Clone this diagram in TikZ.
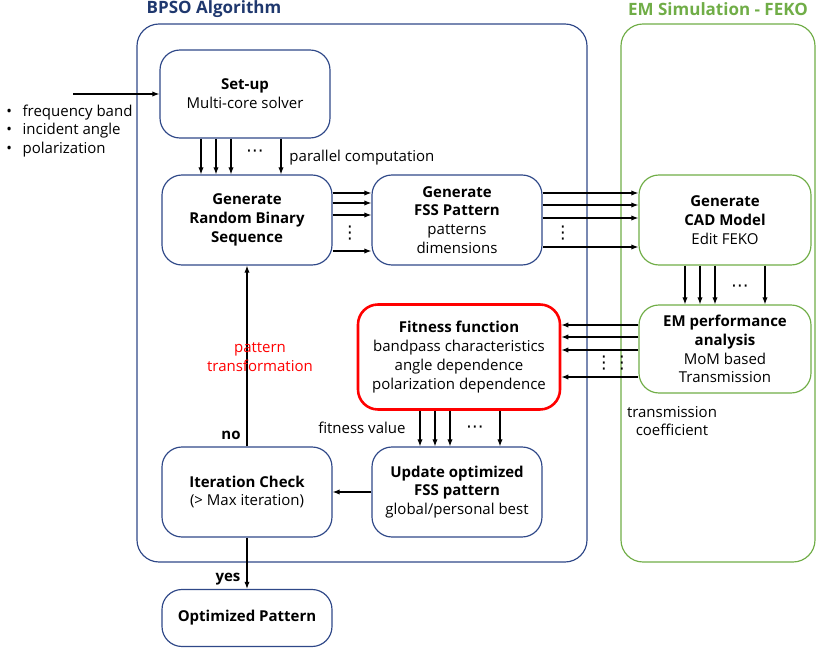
\documentclass[tikz,border=0pt]{standalone}
\usepackage{fontspec}
\setmainfont{Open Sans}
\newfontfamily\symfont{DejaVu Sans}
\usetikzlibrary{arrows.meta}
\definecolor{bpsoblue}{RGB}{47,72,136}
\definecolor{titleblue}{RGB}{31,56,110}
\definecolor{femgreen}{RGB}{112,173,71}
\tikzset{
	block/.style={draw=bpsoblue, line width=1pt, rounded corners=0.6cm, align=center, minimum width=5.1cm, minimum height=2.7cm, inner sep=0pt},
	femblock/.style={block, draw=femgreen, minimum width=5.16cm},
	fitblock/.style={block, draw=red, line width=2.2pt, minimum width=6.06cm, minimum height=3.15cm},
	frame/.style={line width=1pt, rounded corners=0.66cm},
	bigtitle/.style={font=\fontsize{14.5}{16}\selectfont\bfseries},
	answer/.style={font=\fontsize{12.8}{16}\selectfont\bfseries},
	dots/.style={inner sep=0pt, font=\symfont\fontsize{15}{15}\selectfont},
}
\begin{document}
\begin{tikzpicture}[x=0.03cm, y=-0.03cm, line width=1pt,
	>={Latex[length=6pt,width=4.5pt]},
	every node/.style={font=\fontsize{12.8}{16}\selectfont}]
	\useasboundingbox (0,0) rectangle (827,649);
	\draw [frame, bpsoblue] (137,24) rectangle (587,562);
	\draw [frame, femgreen] (621,24) rectangle (815,562);
	\node [bigtitle, text=titleblue] (bpsotitle) at (214,9) {BPSO Algorithm};
	\node [bigtitle, text=femgreen] (femtitle) at (718,9) {EM Simulation - FEKO};
	
	\node [block, minimum height=2.64cm] (setup) at (245,94)
	{\textbf{Set-up}\\Multi-core solver};
	\node [block] (random) at (247,220)
	{\textbf{Generate}\\\textbf{Random Binary}\\\textbf{Sequence}};
	\node [block] (fss) at (457,220)
	{\textbf{Generate}\\\textbf{FSS Pattern}\\patterns\\dimensions};
	\node [femblock] (cad) at (725,220)
	{\textbf{Generate}\\\textbf{CAD Model}\\Edit FEKO};
	\node [femblock, minimum height=2.64cm] (emperf) at (725,349)
	{\textbf{EM performance}\\\textbf{analysis}\\MoM based\\Transmission};
	\node [fitblock] (fitness) at (459,357)
	{\textbf{Fitness function}\\bandpass characteristics\\angle dependence\\polarization dependence};
	\node [block] (update) at (457,492)
	{\textbf{Update optimized}\\\textbf{FSS pattern}\\global/personal best};
	\node [block] (iter) at (247,492)
	{\textbf{Iteration Check}\\(> Max iteration)};
	\node [block, minimum height=1.71cm] (optimal) at (247,618)
	{\textbf{Optimized Pattern}};
	
	\node [align=left, anchor=west] (inputs) at (2,131)
	{\textbullet\hspace{0.7em}frequency band\\
		\textbullet\hspace{0.7em}incident angle\\
		\textbullet\hspace{0.7em}polarization};
	\coordinate (infeed) at (73,94);
	\draw [->] (infeed) -- (setup.west);
	
	\foreach \x in {201,216,231,281}
	\draw [->] (setup.south -| \x,0) -- (random.north -| \x,0);
	\foreach \y in {193,203,215,251}
	\draw [->] (random.east |- 0,\y) -- (fss.west |- 0,\y);
	\foreach \y in {193,205,218,247}
	\draw [->] (fss.east |- 0,\y) -- (cad.west |- 0,\y);
	\foreach \x in {685,700,715,765}
	\draw [->] (cad.south -| \x,0) -- (emperf.north -| \x,0);
	\foreach \y in {325,337,350,377}
	\draw [->] (emperf.west |- 0,\y) -- (fitness.east |- 0,\y);
	\foreach \x in {420,435,450,500}
	\draw [->] (fitness.south -| \x,0) -- (update.north -| \x,0);
	\draw [->] (update.west) -- (iter.east);
	\draw [->] (iter.north) -- (random.south);
	\draw [->] (iter.south) -- (optimal.north);
	
	\node [dots] (setupdots) at (255,153) {⋯};
	\node [dots] (randomdots) at (350,233) {⋮};
	\node [dots] (fssdots) at (563,233) {⋮};
	\node [dots] (caddots) at (740,288) {⋯};
	\node [dots] (emdotsa) at (604,363) {⋮};
	\node [dots] (emdotsb) at (622,363) {⋮};
	\node [dots] (fitdots) at (475,429) {⋯};
	
	\node [anchor=west] (parallel) at (285,158) {parallel computation};
	\node [anchor=east] (fitvalue) at (410,428) {fitness value};
	\node [align=center] (transcoef) at (672,421) {transmission\\coefficient};
	\node [text=red, align=center] (ptrans) at (260,357) {pattern\\transformation};
	\node [answer] (no) at (231,435) {no};
	\node [answer] (yes) at (228,579) {yes};
\end{tikzpicture}
\end{document}
